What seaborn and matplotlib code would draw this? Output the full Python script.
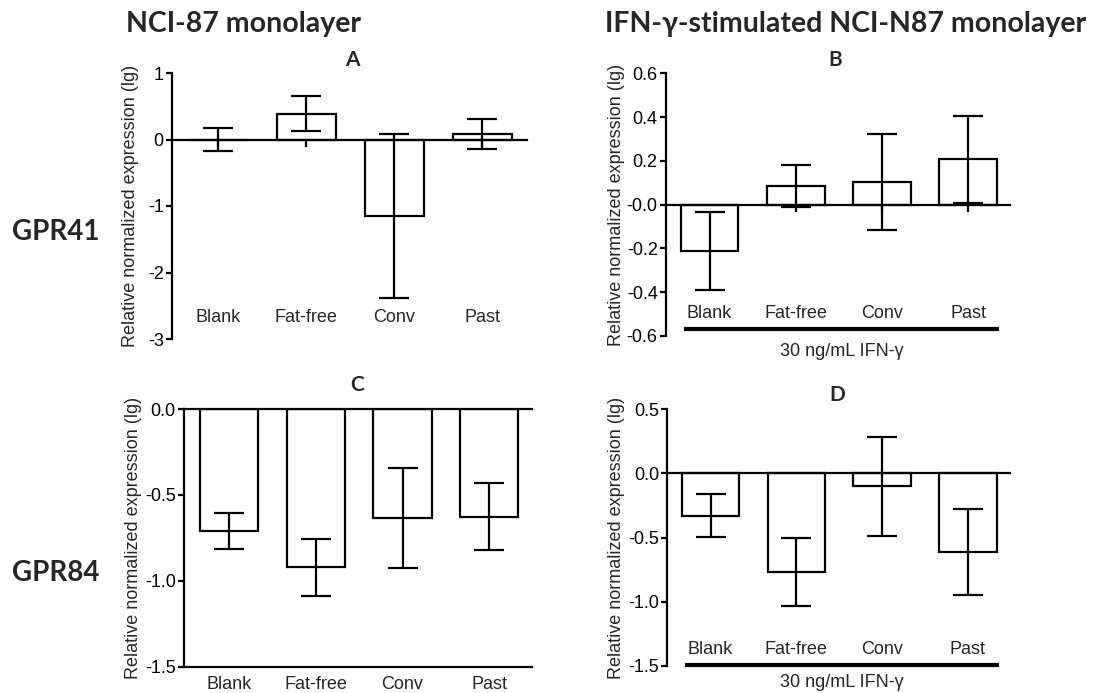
import matplotlib
matplotlib.use("Agg")
import matplotlib.pyplot as plt
import matplotlib.transforms as mtransforms
import pandas as pd
import seaborn as sns

# ---- data (log10 relative normalized expression, mean and error) ----
categories = ["Blank", "Fat-free", "Conv", "Past"]

gpr41_mono_mean = [0.00, 0.39, -1.15, 0.08]
gpr41_mono_err = [0.18, 0.26, 1.23, 0.23]

gpr41_ifn_mean = [-0.21, 0.085, 0.103, 0.207]
gpr41_ifn_err = [0.178, 0.094, 0.22, 0.20]

gpr84_mono_mean = [-0.711, -0.922, -0.633, -0.627]
gpr84_mono_err = [0.104, 0.168, 0.29, 0.196]

gpr84_ifn_mean = [-0.329, -0.767, -0.103, -0.614]
gpr84_ifn_err = [0.165, 0.266, 0.385, 0.336]

ticks_a = [1, 0, -1, -2, -3]
ticklabels_a = ["1", "0", "-1", "-2", "-3"]
ticks_b = [0.6, 0.4, 0.2, 0.0, -0.2, -0.4, -0.6]
ticklabels_b = ["0.6", "0.4", "0.2", "-0.0", "-0.2", "-0.4", "-0.6"]
ticks_c = [0.0, -0.5, -1.0, -1.5]
ticklabels_c = ["0.0", "-0.5", "-1.0", "-1.5"]
ticks_d = [0.5, 0.0, -0.5, -1.0, -1.5]
ticklabels_d = ["0.5", "0.0", "-0.5", "-1.0", "-1.5"]

col_titles = ["NCI-87 monolayer", "IFN-\u03b3-stimulated NCI-N87 monolayer"]
row_titles = ["GPR41", "GPR84"]
panel_letters = ["A", "B", "C", "D"]
ylabel = "Relative normalized expression (lg)"
treatment_label = "30 ng/mL IFN-\u03b3"

# ---- style ----
sns.set_theme(style="ticks")
plt.rcParams["font.family"] = ["Liberation Sans", "DejaVu Sans"]
plt.rcParams["axes.unicode_minus"] = False
bold_family = ["Lato", "DejaVu Sans"]

LW = 1.6
TICK_FS = 13

fig = plt.figure(figsize=(11.01, 6.93), dpi=100)

W, H = 1101.0, 693.0


def add_axes_px(x0, x1, ytop, ybot):
    return fig.add_axes([x0 / W, (H - ybot) / H, (x1 - x0) / W, (ybot - ytop) / H])


panels = [
    dict(ax=add_axes_px(172, 527, 73, 339), mean=gpr41_mono_mean, err=gpr41_mono_err,
         ylim=(-3, 1), ticks=ticks_a, labels=ticklabels_a, xlim=(-0.523, 3.511),
         mode="zero", lab_y=0.079, ylab_x=-0.093, letter=(352, 60), treat=None),
    dict(ax=add_axes_px(666, 1010, 73.3, 336), mean=gpr41_ifn_mean, err=gpr41_ifn_err,
         ylim=(-0.6, 0.6), ticks=ticks_b, labels=ticklabels_b, xlim=(-0.505, 3.486),
         mode="zero", lab_y=0.0875, ylab_x=-0.119, letter=(835, 60), treat=(0.027, -0.058)),
    dict(ax=add_axes_px(184, 531.7, 409, 666.7), mean=gpr84_mono_mean, err=gpr84_mono_err,
         ylim=(-1.5, 0.0), ticks=ticks_c, labels=ticklabels_c, xlim=(-0.52, 3.49),
         mode="top", lab_y=-0.071, ylab_x=-0.121, letter=(357, 385), treat=None),
    dict(ax=add_axes_px(667.3, 1010, 409, 666), mean=gpr84_ifn_mean, err=gpr84_ifn_err,
         ylim=(-1.5, 0.5), ticks=ticks_d, labels=ticklabels_d, xlim=(-0.505, 3.49),
         mode="zero", lab_y=0.066, ylab_x=-0.123, letter=(837, 395), treat=(0.004, -0.066)),
]

for p, letter in zip(panels, panel_letters):
    ax = p["ax"]
    df = pd.DataFrame({"group": categories, "value": p["mean"]})
    sns.barplot(data=df, x="group", y="value", order=categories, ax=ax,
                color="white", edgecolor="black", linewidth=LW, width=0.67,
                errorbar=None, saturation=1)
    xpos = list(range(len(categories)))
    ax.errorbar(xpos, p["mean"], yerr=p["err"], fmt="none", ecolor="black",
                elinewidth=LW, capsize=10.8, capthick=LW, zorder=3)

    ax.set_xlim(*p["xlim"])
    ax.set_ylim(*p["ylim"])
    ax.set_yticks(p["ticks"])
    ax.set_yticklabels(p["labels"], fontsize=TICK_FS)
    ax.tick_params(axis="y", direction="out", length=4, width=LW, pad=2, colors="black")
    ax.set_xlabel("")
    ax.set_ylabel(ylabel, fontsize=TICK_FS)
    ax.yaxis.set_label_coords(p["ylab_x"], 0.5)
    ax.spines["right"].set_visible(False)

    if p["mode"] == "zero":
        ax.spines["top"].set_visible(False)
        ax.spines["bottom"].set_position(("data", 0))
        ax.set_xticks(xpos)
        ax.tick_params(axis="x", direction="out", length=5, width=LW,
                       labelbottom=False, colors="black")
    else:
        ax.spines["top"].set_visible(True)
        ax.set_xticks(xpos)
        ax.tick_params(axis="x", length=0, labelbottom=False)

    for s in ax.spines.values():
        s.set_linewidth(LW)
        s.set_color("black")

    trans = mtransforms.blended_transform_factory(ax.transData, ax.transAxes)
    for x, name in zip(xpos, categories):
        ax.text(x, p["lab_y"], name, transform=trans, ha="center", va="center",
                fontsize=TICK_FS, clip_on=False)

    if p["treat"] is not None:
        line_y, text_y = p["treat"]
        x0, x1 = xpos[0] - 0.30, xpos[-1] + 0.36
        ax.plot([x0, x1], [line_y, line_y], transform=trans, color="black",
                lw=3, clip_on=False, solid_capstyle="butt")
        ax.text((x0 + x1) / 2, text_y, treatment_label, transform=trans,
                ha="center", va="center", fontsize=TICK_FS, clip_on=False)

    lx, ly = p["letter"]
    fig.text(lx / W, 1 - ly / H, letter, ha="center", va="center",
             fontsize=15, fontweight="bold", family=bold_family)

fig.text(244 / W, 1 - 24 / H, col_titles[0], ha="center", va="center",
         fontsize=20.5, fontweight="bold", family=bold_family)
fig.text(846 / W, 1 - 24 / H, col_titles[1], ha="center", va="center",
         fontsize=20.5, fontweight="bold", family=bold_family)
fig.text(56 / W, 1 - 232 / H, row_titles[0], ha="center", va="center",
         fontsize=20, fontweight="bold", family=bold_family)
fig.text(56 / W, 1 - 573 / H, row_titles[1], ha="center", va="center",
         fontsize=20, fontweight="bold", family=bold_family)

fig.savefig("out.png", dpi=100, facecolor="white")
